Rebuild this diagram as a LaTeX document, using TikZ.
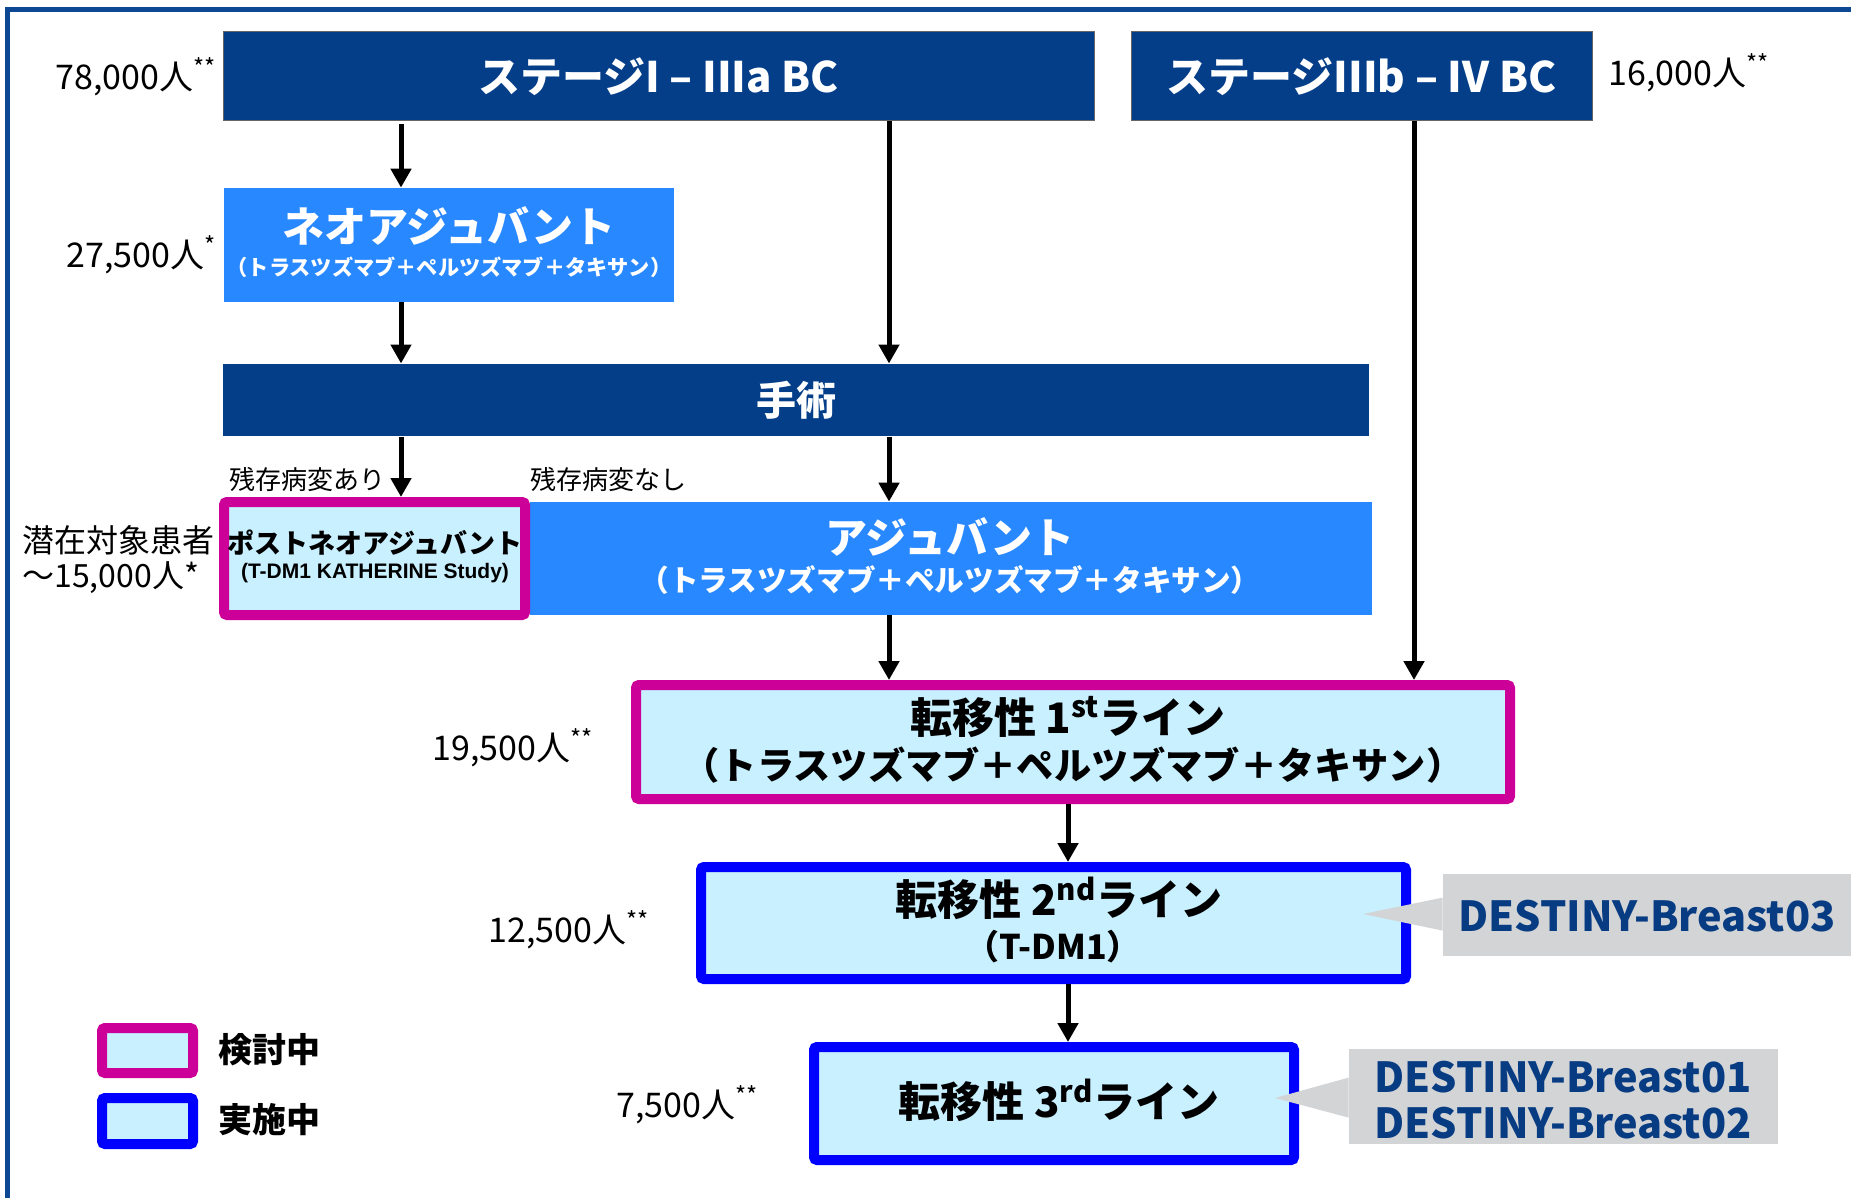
\documentclass[tikz,border=0pt]{standalone}
\usepackage{fontspec}
\setmainfont{Noto Sans CJK JP}
\newfontfamily\arialb{Liberation Sans}
\usetikzlibrary{arrows.meta,calc}
\definecolor{navy}{RGB}{4,62,137}
\definecolor{frame}{RGB}{12,72,148}
\definecolor{brightblue}{RGB}{40,136,255}
\definecolor{lightcyan}{RGB}{200,240,255}
\definecolor{mag}{RGB}{204,0,153}
\definecolor{pureblue}{RGB}{0,0,255}
\definecolor{callgray}{RGB}{211,212,214}
\definecolor{calltext}{RGB}{8,60,130}
\newcommand{\fs}[1]{\fontsize{#1pt}{#1pt}\selectfont}
\tikzset{
  darkbox/.style={fill=navy,draw=black!60,line width=0.5pt,inner sep=0pt,text=white,font=\fs{21}\bfseries},
  brightbox/.style={fill=brightblue,inner sep=0pt,text=white},
  magbox/.style={fill=lightcyan,draw=mag,line width=5pt,rounded corners=1.5pt,inner sep=0pt},
  bluebox/.style={fill=lightcyan,draw=pureblue,line width=5pt,rounded corners=1.5pt,inner sep=0pt},
  lbl/.style={inner sep=0pt,anchor=west,text=black},
  poplbl/.style={lbl,font=\fs{17}},
  wtxt/.style={inner sep=0pt,text=white,font=\bfseries},
  btxt/.style={inner sep=0pt,text=black,font=\bfseries},
  callrect/.style={fill=callgray,inner sep=0pt},
  calltxt/.style={inner sep=0pt,text=calltext,font=\fs{20.7}\bfseries},
  arr/.style={line width=2.5pt,-{Triangle[length=9.5pt,width=10pt]}}
}
\begin{document}
\begin{tikzpicture}[x=0.5pt,y=-0.5pt]
\useasboundingbox (0,0) rectangle (1851,1198);
% frame
\fill[frame] (5,7) rectangle (1851,12);
\fill[frame] (5,7) rectangle (10,1198);

% boxes
\node[darkbox,minimum width=435.5pt,minimum height=44.5pt] (s1) at (658.5,76.5) {ステージI – IIIa BC};
\node[darkbox,minimum width=230.5pt,minimum height=44.5pt] (s3) at (1361.5,76.5) {ステージIIIb – IV BC};
\node[brightbox,minimum width=225pt,minimum height=57pt] (neo) at (449,245) {};
\node[wtxt,font=\fs{21}\bfseries] (neoT) at (449,226) {ネオアジュバント};
\node[wtxt,font=\fs{10.6}\bfseries] (neoS) at (449,267) {（トラスツズマブ＋ペルツズマブ＋タキサン）};
\node[darkbox,draw=none,font=\fs{20}\bfseries,minimum width=573pt,minimum height=36pt] (op) at (796,400) {手術};
\node[brightbox,minimum width=421pt,minimum height=56.5pt] (adj) at (951,558.5) {};
\node[wtxt,font=\fs{21}\bfseries] (adjT) at (950,537) {アジュバント};
\node[wtxt,font=\fs{14.8}\bfseries] (adjS) at (950,580) {（トラスツズマブ＋ペルツズマブ＋タキサン）};
\node[magbox,minimum width=150.5pt,minimum height=56.5pt] (pna) at (374.5,558.5) {};
\node[btxt,font=\fs{13.5}\bfseries] (pnaT) at (375,543) {ポストネオアジュバント};
\node[btxt,font=\arialb\fs{10.5}\bfseries] (pnaS) at (375,573) {(T-DM1 KATHERINE Study)};
\node[magbox,minimum width=437pt,minimum height=57pt] (l1) at (1073,742) {};
\node[btxt,font=\fs{21}\bfseries] (l1T) at (1068,717) {転移性 1\textsuperscript{st}ライン};
\node[btxt,font=\fs{18.6}\bfseries] (l1S) at (1073,765) {（トラスツズマブ＋ペルツズマブ＋タキサン）};
\node[bluebox,minimum width=352.5pt,minimum height=56pt] (l2) at (1053.5,923) {};
\node[btxt,font=\fs{21}\bfseries] (l2T) at (1059,898) {転移性 2\textsuperscript{nd}ライン};
\node[btxt,font=\fs{17}\bfseries] (l2S) at (1053,947) {（T-DM1）};
\node[bluebox,minimum width=240pt,minimum height=56.5pt] (l3) at (1054,1103.5) {};
\node[btxt,font=\fs{21}\bfseries] (l3T) at (1059,1100) {転移性 3\textsuperscript{rd}ライン};

% callouts
\node[callrect,minimum width=204pt,minimum height=41pt] (c1) at (1647,915) {};
\fill[callgray] (1363,914) -- ($(c1.north west)+(0,24)$) -- ($(c1.north west)+(0,57)$) -- cycle;
\node[calltxt] (c1T) at (1647,916) {DESTINY-Breast03};
\node[callrect,minimum width=214.5pt,minimum height=47.5pt] (c2) at (1563.5,1096.5) {};
\fill[callgray] (1275,1098) -- ($(c2.north west)+(0,29)$) -- ($(c2.north west)+(0,69)$) -- cycle;
\node[calltxt] (c2a) at (1563,1077) {DESTINY-Breast01};
\node[calltxt] (c2b) at (1563,1123) {DESTINY-Breast02};

% legend
\node[magbox,minimum width=45.5pt,minimum height=22.5pt] (lg1) at (147.5,1050.5) {};
\node[bluebox,minimum width=45.5pt,minimum height=23pt] (lg2) at (147.5,1121) {};
\node[lbl,font=\fs{17}\bfseries] (lg1T) at (218,1050) {検討中};
\node[lbl,font=\fs{17}\bfseries] (lg2T) at (218,1120) {実施中};

% labels
\node[poplbl] (p1) at (55,77) {78,000人\textsuperscript{**}};
\node[poplbl] (p2) at (1608,73) {16,000人\textsuperscript{**}};
\node[poplbl] (p3) at (66,255) {27,500人\textsuperscript{*}};
\node[lbl,font=\fs{16}] (p4a) at (22,540) {潜在対象患者};
\node[lbl,font=\fs{16}] (p4b) at (22,578) {〜15,000人*};
\node[poplbl] (p5) at (432,748) {19,500人\textsuperscript{**}};
\node[poplbl] (p6) at (488,930) {12,500人\textsuperscript{**}};
\node[poplbl] (p7) at (616,1105) {7,500人\textsuperscript{**}};
\node[lbl,font=\fs{13}] (r1) at (229,480) {残存病変あり};
\node[lbl,font=\fs{13}] (r2) at (530,480) {残存病変なし};

% connectors
\coordinate (xa) at (401,0);
\coordinate (xb) at (889,0);
\coordinate (xc) at (1414,0);
\coordinate (xd) at (1068,0);
\draw[arr] ($(xa |- s1.south)+(0,3)$) -- (xa |- neo.north);
\draw[arr] (xa |- neo.south) -- (xa |- op.north);
\draw[arr] (xa |- op.south) -- (xa |- pna.north);
\draw[arr] (xb |- s1.south) -- (xb |- op.north);
\draw[arr] (xb |- op.south) -- (xb |- adj.north);
\draw[arr] (xb |- adj.south) -- (xb |- l1.north);
\draw[arr] (xc |- s3.south) -- (xc |- l1.north);
\draw[arr] (xd |- l1.south) -- (xd |- l2.north);
\draw[arr] (xd |- l2.south) -- (xd |- l3.north);
\end{tikzpicture}
\end{document}
